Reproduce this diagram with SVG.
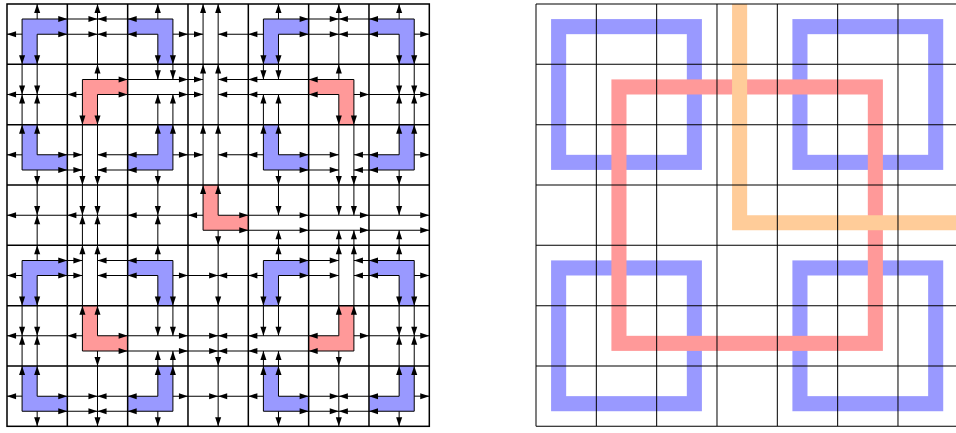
<svg xmlns="http://www.w3.org/2000/svg" width="956" height="433" viewBox="0 0 956 433">
<defs>
<style>
.g{fill:none;stroke:#000;stroke-width:.025}
.gr{fill:none;stroke:#000;stroke-width:.0166}
.l{fill:none;stroke:#000;stroke-width:.0166;marker-mid:url(#a);marker-end:url(#a)}
.b{fill:#9999ff}
.r{fill:#ff9999}
.sb{fill:none;stroke:#9999ff;stroke-width:.25}
.sr{fill:none;stroke:#ff9999;stroke-width:.25}
.so{fill:none;stroke:#ffcc99;stroke-width:.25}
</style>
<marker id="a" markerUnits="userSpaceOnUse" orient="auto" refX="0" refY="0" markerWidth="0.2" markerHeight="0.2" overflow="visible"><path d="M0 0L-.15 -.05L-.15 .05Z" fill="#000"/></marker>
</defs>
<rect width="956" height="433" fill="#fff"/>
<g id="left-panel" transform="translate(7 4) scale(60.33)">
<g id="corners">
<path id="b1-tl" class="b" d="M.25 .25H1V.5H.5V1H.25Z"/>
<path id="b1-tr" class="b" d="M2 .25H2.75V1H2.5V.5H2Z"/>
<path id="b1-bl" class="b" d="M.25 2H.5V2.5H1V2.75H.25Z"/>
<path id="b1-br" class="b" d="M2.5 2H2.75V2.75H2V2.5H2.5Z"/>
<path id="b2-tl" class="b" d="M4.25 .25H5V.5H4.5V1H4.25Z"/>
<path id="b2-tr" class="b" d="M6 .25H6.75V1H6.5V.5H6Z"/>
<path id="b2-bl" class="b" d="M4.25 2H4.5V2.5H5V2.75H4.25Z"/>
<path id="b2-br" class="b" d="M6.5 2H6.75V2.75H6V2.5H6.5Z"/>
<path id="b3-tl" class="b" d="M.25 4.25H1V4.5H.5V5H.25Z"/>
<path id="b3-tr" class="b" d="M2 4.25H2.75V5H2.5V4.5H2Z"/>
<path id="b3-bl" class="b" d="M.25 6H.5V6.5H1V6.75H.25Z"/>
<path id="b3-br" class="b" d="M2.5 6H2.75V6.75H2V6.5H2.5Z"/>
<path id="b4-tl" class="b" d="M4.25 4.25H5V4.5H4.5V5H4.25Z"/>
<path id="b4-tr" class="b" d="M6 4.25H6.75V5H6.5V4.5H6Z"/>
<path id="b4-bl" class="b" d="M4.25 6H4.5V6.5H5V6.75H4.25Z"/>
<path id="b4-br" class="b" d="M6.5 6H6.75V6.75H6V6.5H6.5Z"/>
<path id="r-tl" class="r" d="M1.25 1.25H2V1.5H1.5V2H1.25Z"/>
<path id="r-tr" class="r" d="M5 1.25H5.75V2H5.5V1.5H5Z"/>
<path id="r-bl" class="r" d="M1.25 5H1.5V5.5H2V5.75H1.25Z"/>
<path id="r-br" class="r" d="M5.5 5H5.75V5.75H5V5.5H5.5Z"/>
<path id="o-c" class="r" d="M3.25 3H3.5V3.5H4V3.75H3.25Z"/>
</g>
<g id="left-grid" class="g">
<rect x="0" y="0" width="7" height="7"/>
<path d="M1 0V7M2 0V7M3 0V7M4 0V7M5 0V7M6 0V7M0 1H7M0 2H7M0 3H7M0 4H7M0 5H7M0 6H7"/>
</g>
<g id="connectors">
<!-- B1 -->
<path class="l" d="M.25 .25L1 .25L1.5 .25"/><path class="l" d="M2.75 .25L2 .25L1.5 .25"/>
<path class="l" d="M.5 .5L1 .5L1.5 .5"/><path class="l" d="M2.5 .5L2 .5L1.5 .5"/>
<path class="l" d="M.25 .25L.25 1L.25 1.5"/><path class="l" d="M.25 2.75L.25 2L.25 1.5"/>
<path class="l" d="M.5 .5L.5 1L.5 1.5"/><path class="l" d="M.5 2.5L.5 2L.5 1.5"/>
<path class="l" d="M2.75 .25L2.75 1L2.75 1.25"/><path class="l" d="M2.75 2.75L2.75 2L2.75 1.5"/>
<path class="l" d="M2.5 .5L2.5 1L2.5 1.25"/><path class="l" d="M2.5 2.5L2.5 2L2.5 1.5"/>
<path class="l" d="M.25 2.75L1 2.75L1.25 2.75"/><path class="l" d="M2.75 2.75L2 2.75L1.5 2.75"/>
<path class="l" d="M.5 2.5L1 2.5L1.25 2.5"/><path class="l" d="M2.5 2.5L2 2.5L1.5 2.5"/>
<path class="l" d="M.5 .25L.5 0"/><path class="l" d="M.25 .5L0 .5"/>
<path class="l" d="M2.5 .25L2.5 0"/><path class="l" d="M2.75 .5L3 .5L3.25 .5"/>
<path class="l" d="M.25 2.5L0 2.5"/><path class="l" d="M.5 2.75L.5 3L.5 3.5"/>
<path class="l" d="M2.75 2.5L3 2.5L3.25 2.5"/><path class="l" d="M2.5 2.75L2.5 3L2.5 3.5"/>
<!-- B2 -->
<path class="l" d="M4.25 .25L5 .25L5.5 .25"/><path class="l" d="M6.75 .25L6 .25L5.5 .25"/>
<path class="l" d="M4.5 .5L5 .5L5.5 .5"/><path class="l" d="M6.5 .5L6 .5L5.5 .5"/>
<path class="l" d="M4.25 .25L4.25 1L4.25 1.25"/><path class="l" d="M4.25 2.75L4.25 2L4.25 1.5"/>
<path class="l" d="M4.5 .5L4.5 1L4.5 1.25"/><path class="l" d="M4.5 2.5L4.5 2L4.5 1.5"/>
<path class="l" d="M6.75 .25L6.75 1L6.75 1.5"/><path class="l" d="M6.75 2.75L6.75 2L6.75 1.5"/>
<path class="l" d="M6.5 .5L6.5 1L6.5 1.5"/><path class="l" d="M6.5 2.5L6.5 2L6.5 1.5"/>
<path class="l" d="M4.25 2.75L5 2.75L5.5 2.75"/><path class="l" d="M6.75 2.75L6 2.75L5.75 2.75"/>
<path class="l" d="M4.5 2.5L5 2.5L5.5 2.5"/><path class="l" d="M6.5 2.5L6 2.5L5.75 2.5"/>
<path class="l" d="M4.5 .25L4.5 0"/><path class="l" d="M4.25 .5L4 .5L3.5 .5"/>
<path class="l" d="M6.5 .25L6.5 0"/><path class="l" d="M6.75 .5L7 .5"/>
<path class="l" d="M4.25 2.5L4 2.5L3.5 2.5"/><path class="l" d="M4.5 2.75L4.5 3L4.5 3.5"/>
<path class="l" d="M6.75 2.5L7 2.5"/><path class="l" d="M6.5 2.75L6.5 3L6.5 3.5"/>
<!-- B3 -->
<path class="l" d="M.25 4.25L1 4.25L1.25 4.25"/><path class="l" d="M2.75 4.25L2 4.25L1.5 4.25"/>
<path class="l" d="M.5 4.5L1 4.5L1.25 4.5"/><path class="l" d="M2.5 4.5L2 4.5L1.5 4.5"/>
<path class="l" d="M.25 4.25L.25 5L.25 5.5"/><path class="l" d="M.25 6.75L.25 6L.25 5.5"/>
<path class="l" d="M.5 4.5L.5 5L.5 5.5"/><path class="l" d="M.5 6.5L.5 6L.5 5.5"/>
<path class="l" d="M2.75 4.25L2.75 5L2.75 5.5"/><path class="l" d="M2.75 6.75L2.75 6L2.75 5.75"/>
<path class="l" d="M2.5 4.5L2.5 5L2.5 5.5"/><path class="l" d="M2.5 6.5L2.5 6L2.5 5.75"/>
<path class="l" d="M.25 6.75L1 6.75L1.5 6.75"/><path class="l" d="M2.75 6.75L2 6.75L1.5 6.75"/>
<path class="l" d="M.5 6.5L1 6.5L1.5 6.5"/><path class="l" d="M2.5 6.5L2 6.5L1.5 6.5"/>
<path class="l" d="M.5 4.25L.5 4L.5 3.5"/><path class="l" d="M.25 4.5L0 4.5"/>
<path class="l" d="M2.5 4.25L2.5 4L2.5 3.5"/><path class="l" d="M2.75 4.5L3 4.5L3.5 4.5"/>
<path class="l" d="M.25 6.5L0 6.5"/><path class="l" d="M.5 6.75L.5 7"/>
<path class="l" d="M2.5 6.75L2.5 7"/><path class="l" d="M2.75 6.5L3 6.5L3.5 6.5"/>
<!-- B4 -->
<path class="l" d="M4.25 4.25L5 4.25L5.5 4.25"/><path class="l" d="M6.75 4.25L6 4.25L5.75 4.25"/>
<path class="l" d="M4.5 4.5L5 4.5L5.5 4.5"/><path class="l" d="M6.5 4.5L6 4.5L5.75 4.5"/>
<path class="l" d="M4.25 4.25L4.25 5L4.25 5.5"/><path class="l" d="M4.25 6.75L4.25 6L4.25 5.75"/>
<path class="l" d="M4.5 4.5L4.5 5L4.5 5.5"/><path class="l" d="M4.5 6.5L4.5 6L4.5 5.75"/>
<path class="l" d="M6.75 4.25L6.75 5L6.75 5.5"/><path class="l" d="M6.75 6.75L6.75 6L6.75 5.5"/>
<path class="l" d="M6.5 4.5L6.5 5L6.5 5.5"/><path class="l" d="M6.5 6.5L6.5 6L6.5 5.5"/>
<path class="l" d="M4.25 6.75L5 6.75L5.5 6.75"/><path class="l" d="M6.75 6.75L6 6.75L5.5 6.75"/>
<path class="l" d="M4.5 6.5L5 6.5L5.5 6.5"/><path class="l" d="M6.5 6.5L6 6.5L5.5 6.5"/>
<path class="l" d="M4.5 4.25L4.5 4L4.5 3.75"/><path class="l" d="M4.25 4.5L4 4.5L3.5 4.5"/>
<path class="l" d="M6.5 4.25L6.5 4L6.5 3.75"/><path class="l" d="M6.75 4.5L7 4.5"/>
<path class="l" d="M4.5 6.75L4.5 7"/><path class="l" d="M4.25 6.5L4 6.5L3.5 6.5"/>
<path class="l" d="M6.5 6.75L6.5 7"/><path class="l" d="M6.75 6.5L7 6.5"/>
<!-- Red -->
<path class="l" d="M1.25 1.25L2 1.25L3 1.25L3.25 1.25"/><path class="l" d="M5.75 1.25L5 1.25L4 1.25L3.5 1.25"/>
<path class="l" d="M1.5 1.5L2 1.5L3 1.5L3.25 1.5"/><path class="l" d="M5.5 1.5L5 1.5L4 1.5L3.5 1.5"/>
<path class="l" d="M1.25 1.25L1.25 2L1.25 3L1.25 3.5"/><path class="l" d="M1.25 5.75L1.25 5L1.25 4L1.25 3.5"/>
<path class="l" d="M1.5 1.5L1.5 2L1.5 3L1.5 3.5"/><path class="l" d="M1.5 5.5L1.5 5L1.5 4L1.5 3.5"/>
<path class="l" d="M5.75 1.25L5.75 2L5.75 3L5.75 3.5"/><path class="l" d="M5.75 5.75L5.75 5L5.75 4L5.75 3.75"/>
<path class="l" d="M5.5 1.5L5.5 2L5.5 3L5.5 3.5"/><path class="l" d="M5.5 5.5L5.5 5L5.5 4L5.5 3.75"/>
<path class="l" d="M1.25 5.75L2 5.75L3 5.75L3.5 5.75"/><path class="l" d="M5.75 5.75L5 5.75L4 5.75L3.5 5.75"/>
<path class="l" d="M1.5 5.5L2 5.5L3 5.5L3.5 5.5"/><path class="l" d="M5.5 5.5L5 5.5L4 5.5L3.5 5.5"/>
<path class="l" d="M1.5 1.25L1.5 1L1.5 0"/><path class="l" d="M1.25 1.5L1 1.5L0 1.5"/>
<path class="l" d="M5.5 1.25L5.5 1L5.5 0"/><path class="l" d="M5.75 1.5L6 1.5L7 1.5"/>
<path class="l" d="M1.5 5.75L1.5 6L1.5 7"/><path class="l" d="M1.25 5.5L1 5.5L0 5.5"/>
<path class="l" d="M5.5 5.75L5.5 6L5.5 7"/><path class="l" d="M5.75 5.5L6 5.5L7 5.5"/>
<!-- Orange -->
<path class="l" d="M3.25 3.75L3.25 3L3.25 2L3.25 1L3.25 0"/>
<path class="l" d="M3.5 3.5L3.5 3L3.5 2L3.5 1L3.5 0"/>
<path class="l" d="M3.25 3.75L4 3.75L5 3.75L6 3.75L7 3.75"/>
<path class="l" d="M3.5 3.5L4 3.5L5 3.5L6 3.5L7 3.5"/>
<path class="l" d="M3.5 3.75L3.5 4L3.5 5L3.5 6L3.5 7"/>
<path class="l" d="M3.25 3.5L3 3.5L2 3.5L1 3.5L0 3.5"/>
</g>
</g>
<g id="right-panel" transform="translate(536 4) scale(60.33)">
<g id="paths">
<rect id="rb1" class="sb" x=".375" y=".375" width="2.25" height="2.25"/>
<rect id="rb2" class="sb" x="4.375" y=".375" width="2.25" height="2.25"/>
<rect id="rb3" class="sb" x=".375" y="4.375" width="2.25" height="2.25"/>
<rect id="rb4" class="sb" x="4.375" y="4.375" width="2.25" height="2.25"/>
<rect id="rr" class="sr" x="1.375" y="1.375" width="4.25" height="4.25"/>
<path id="ro" class="so" d="M3.375 0V3.625H7.3"/>
</g>
<g id="right-grid" class="gr">
<path d="M0 0V7M1 0V7M2 0V7M3 0V7M4 0V7M5 0V7M6 0V7M7 0V7M0 0H7M0 1H7M0 2H7M0 3H7M0 4H7M0 5H7M0 6H7M0 7H7"/>
</g>
</g>
</svg>
